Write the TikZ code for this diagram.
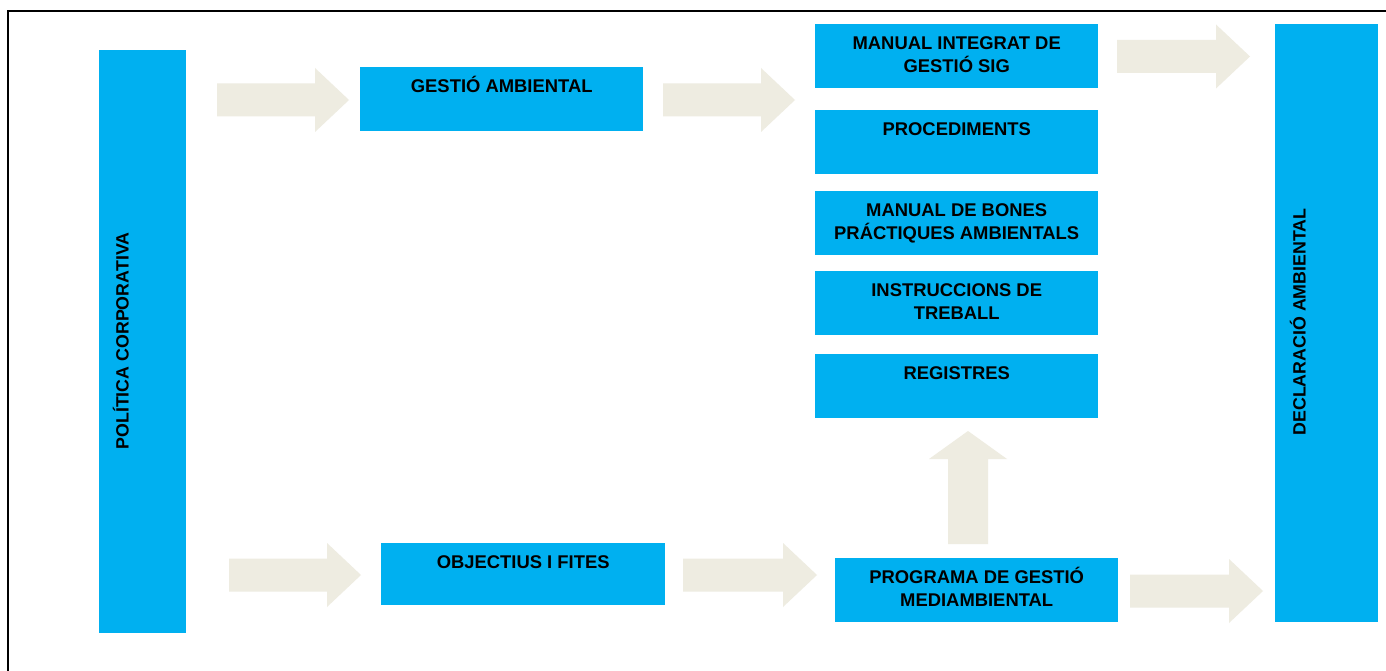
\documentclass[tikz,border=0pt]{standalone}
\usepackage{fontspec}
\setmainfont{Liberation Sans}
\usetikzlibrary{calc}
\definecolor{boxblue}{HTML}{00B0F0}
\definecolor{arrowbeige}{HTML}{EEECE1}
\newcommand\rarrow[3]{% x start, x tip, y centre
  \fill[arrowbeige] (#1,#3-16.5) -- (#2-34,#3-16.5) -- (#2-34,#3-32) -- (#2,#3)
    -- (#2-34,#3+32) -- (#2-34,#3+16.5) -- (#1,#3+16.5) -- cycle;}
\begin{document}
\begin{tikzpicture}[x=1pt,y=-1pt,
  bluebox/.style={fill=boxblue, draw=none, inner sep=0pt, anchor=north west},
  boxtext/.style={font=\bfseries\fontsize{18.4}{23}\selectfont, align=center, anchor=base, inner sep=0pt},
  sidetext/.style={font=\bfseries\fontsize{17.8}{23}\selectfont, anchor=base, inner sep=0pt, rotate=90},
  frameline/.style={line width=2pt, black}]
\useasboundingbox (0,0) rectangle (1386,671);
\fill[white] (0,0) rectangle (1386,671);
\draw[frameline] (8,671) -- (8,11) -- (1386,11);

% tall side boxes
\node[bluebox, minimum width=87pt, minimum height=583pt] (pol) at (99,50) {};
\node[sidetext] (poltxt) at (128.6,341) {POLÍTICA CORPORATIVA};
\node[bluebox, minimum width=103pt, minimum height=598pt] (decl) at (1275,24) {};
\node[sidetext] (decltxt) at (1305.6,322) {DECLARACIÓ AMBIENTAL};

% boxes
\node[bluebox, minimum width=283pt, minimum height=64pt] (ga) at (360,67) {};
\node[boxtext] (gatxt) at ($(ga.north)+(0,25.6)$) {GESTIÓ AMBIENTAL};

\node[bluebox, minimum width=283pt, minimum height=64pt] (mi) at (815,24) {};
\node[boxtext] (mitxt) at ($(mi.north)+(0,48.6)$) {MANUAL INTEGRAT DE\\GESTIÓ SIG};

\node[bluebox, minimum width=283pt, minimum height=64pt] (pr) at (815,110) {};
\node[boxtext] (prtxt) at ($(pr.north)+(0,25.6)$) {PROCEDIMENTS};

\node[bluebox, minimum width=283pt, minimum height=64pt] (mb) at (815,191) {};
\node[boxtext] (mbtxt) at ($(mb.north)+(0,48.6)$) {MANUAL DE BONES\\PRÁCTIQUES AMBIENTALS};

\node[bluebox, minimum width=283pt, minimum height=64pt] (it) at (815,271) {};
\node[boxtext] (ittxt) at ($(it.north)+(0,48.6)$) {INSTRUCCIONS DE\\TREBALL};

\node[bluebox, minimum width=283pt, minimum height=64pt] (re) at (815,354) {};
\node[boxtext] (retxt) at ($(re.north)+(0,25.6)$) {REGISTRES};

\node[bluebox, minimum width=284pt, minimum height=62pt] (of) at (381,543) {};
\node[boxtext] (oftxt) at ($(of.north)+(0,25.6)$) {OBJECTIUS I FITES};

\node[bluebox, minimum width=283pt, minimum height=64pt] (pg) at (835,558) {};
\node[boxtext] (pgtxt) at ($(pg.north)+(0,48.6)$) {PROGRAMA DE GESTIÓ\\MEDIAMBIENTAL};

% block arrows
\rarrow{217}{349}{100}
\rarrow{663}{795}{100}
\rarrow{1117}{1250}{56.5}
\rarrow{229}{361}{575}
\rarrow{683}{817}{575}
\rarrow{1130}{1263}{591}
\fill[arrowbeige] (948,544) -- (948,459) -- (929,459) -- (968,431) -- (1007,459)
  -- (988,459) -- (988,544) -- cycle;
\end{tikzpicture}
\end{document}
